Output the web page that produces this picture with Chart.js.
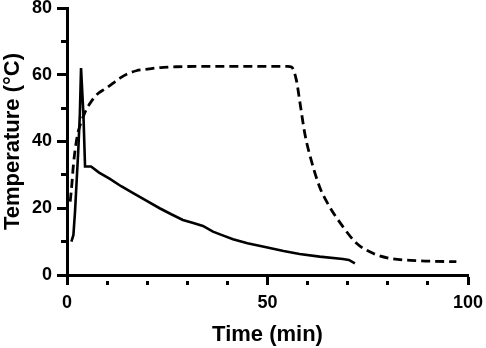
<!DOCTYPE html>
<html>
<head>
<meta charset="utf-8">
<script src="https://cdn.jsdelivr.net/npm/chart.js@4.4.1/dist/chart.umd.min.js"></script>
<style>
  body { margin: 0; background: #fff; }
</style>
</head>
<body>
<canvas id="tempChart" width="486" height="348"></canvas>
<script>
// Werte (Zeit in min, Temperatur in °C)
const solidTime = [1.1, 1.6, 2.0, 2.4, 2.8, 3.2, 3.5, 4.1, 4.5, 6.0, 8, 10.6, 13.5, 16.5, 20, 23.1, 26, 28.9, 31.5, 33.9, 36.4, 39, 41.4, 45, 49.7, 54, 58, 63, 68.8, 70.3, 71.8];
const solidTemp = [10, 12, 19, 28, 37, 48, 62, 48, 32.5, 32.5, 30.7, 28.9, 26.6, 24.5, 22.1, 20.0, 18.2, 16.5, 15.6, 14.7, 13.0, 11.8, 10.7, 9.5, 8.3, 7.2, 6.3, 5.5, 4.8, 4.5, 3.5];

const dashedTime = [0.8, 1.2, 1.6, 2.2, 2.8, 3.6, 4.4, 5.5, 7.3, 9.8, 11.5, 13.1, 15, 17.3, 19.5, 21.4, 24, 27.3, 35, 45, 55, 56, 57.2, 58, 59.3, 60.9, 63, 65.5, 68.8, 72.2, 76.3, 80.5, 87.1, 92, 97.1];
const dashedTemp = [22, 27, 33, 39, 43, 46, 48.5, 51, 53.9, 56, 57.5, 58.9, 60.2, 61.2, 61.6, 61.9, 62.2, 62.4, 62.5, 62.5, 62.5, 62.3, 58.4, 52.4, 42.4, 34.4, 26.4, 20.4, 14.5, 9.5, 6.5, 5.0, 4.3, 4.1, 4.0];

const xMajor = 50;
const yMajor = 20;

function toPoints(xs, ys) {
  let pts = [];
  for (let i = 0; i < xs.length; i++) {
    pts.push({ x: xs[i], y: ys[i] });
  }
  return pts;
}

const fontFamily = "'Liberation Sans', Arial, sans-serif";

new Chart(document.getElementById('tempChart'), {
  type: 'line',
  data: {
    datasets: [{
      data: toPoints(solidTime, solidTemp),
      borderColor: '#000',
      borderWidth: 2.6,
      pointRadius: 0,
      tension: 0,
      fill: false
    }, {
      data: toPoints(dashedTime, dashedTemp),
      borderColor: '#000',
      borderWidth: 2.8,
      borderDash: [9, 5],
      pointRadius: 0,
      cubicInterpolationMode: 'monotone',
      fill: false
    }]
  },
  options: {
    responsive: false,
    animation: false,
    layout: { padding: 0 },
    plugins: {
      legend: { display: false },
      tooltip: { enabled: false }
    },
    scales: {
      x: {
        type: 'linear',
        min: 0,
        max: 100,
        afterFit: function(scale) {
          scale.height = 73;
          scale.paddingRight = 18;
        },
        border: { color: '#000', width: 3 },
        grid: {
          drawOnChartArea: false,
          tickLength: 10,
          tickWidth: 3,
          tickColor: '#000',
          // kurze Striche für Zwischenwerte (Linie läuft von außen nach innen)
          tickBorderDash: function(ctx) {
            return (ctx.tick && ctx.tick.value % xMajor === 0) ? [] : [0, 4, 20, 100];
          }
        },
        ticks: {
          stepSize: 10,
          autoSkip: false,
          maxRotation: 0,
          color: '#000',
          padding: 7,
          font: { family: fontFamily, size: 18, weight: 'bold' },
          callback: function(v) { return v % xMajor === 0 ? v : ''; }
        },
        title: {
          display: true,
          text: 'Time (min)',
          color: '#000',
          padding: { top: 3, bottom: 0 },
          font: { family: fontFamily, size: 22, weight: 'bold' }
        }
      },
      y: {
        min: 0,
        max: 80,
        afterFit: function(scale) {
          scale.width = 67;
          scale.paddingTop = 8;
        },
        border: { color: '#000', width: 3 },
        grid: {
          drawOnChartArea: false,
          tickLength: 10,
          tickWidth: 3,
          tickColor: '#000',
          tickBorderDash: function(ctx) {
            return (ctx.tick && ctx.tick.value % yMajor === 0) ? [] : [0, 4, 20, 100];
          }
        },
        ticks: {
          stepSize: 10,
          autoSkip: false,
          color: '#000',
          padding: 5,
          font: { family: fontFamily, size: 18, weight: 'bold' },
          callback: function(v) { return v % yMajor === 0 ? v : ''; }
        },
        title: {
          display: true,
          text: 'Temperature (°C)',
          color: '#000',
          padding: { top: 0, bottom: 4 },
          font: { family: fontFamily, size: 22, weight: 'bold' }
        }
      }
    }
  }
});
</script>
</body>
</html>
